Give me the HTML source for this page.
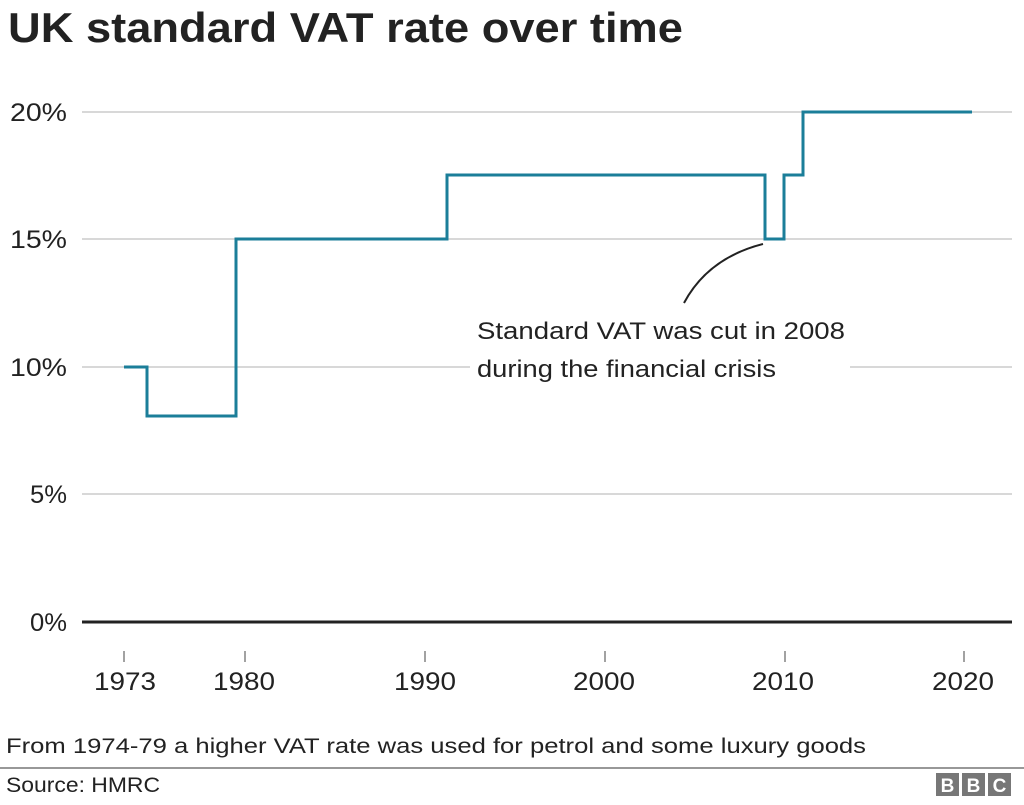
<!DOCTYPE html>
<html><head><meta charset="utf-8"><style>
body{margin:0;background:#fff;width:1024px;height:800px;overflow:hidden;font-family:"Liberation Sans",Arial,sans-serif;}
</style></head><body>
<svg width="1024" height="800" xmlns="http://www.w3.org/2000/svg" font-family="Liberation Sans, Arial, sans-serif">
<text x="8" y="42" font-size="42" font-weight="bold" fill="#222" textLength="675" lengthAdjust="spacingAndGlyphs">UK standard VAT rate over time</text>
<g stroke="#ccc" stroke-width="1.5">
<line x1="82" y1="112" x2="1012" y2="112"/>
<line x1="82" y1="239" x2="1012" y2="239"/>
<line x1="82" y1="367" x2="1012" y2="367"/>
<line x1="82" y1="494" x2="1012" y2="494"/>
</g>
<line x1="82" y1="622" x2="1012" y2="622" stroke="#222" stroke-width="3"/>
<g font-size="25" fill="#222">
<text x="10" y="121" textLength="57" lengthAdjust="spacingAndGlyphs">20%</text>
<text x="10" y="248" textLength="57" lengthAdjust="spacingAndGlyphs">15%</text>
<text x="10" y="376" textLength="57" lengthAdjust="spacingAndGlyphs">10%</text>
<text x="30" y="503" textLength="37" lengthAdjust="spacingAndGlyphs">5%</text>
<text x="30" y="631" textLength="37" lengthAdjust="spacingAndGlyphs">0%</text>
</g>
<g stroke="#444" stroke-width="1">
<line x1="124" y1="651" x2="124" y2="662"/>
<line x1="245" y1="651" x2="245" y2="662"/>
<line x1="425" y1="651" x2="425" y2="662"/>
<line x1="605" y1="651" x2="605" y2="662"/>
<line x1="785" y1="651" x2="785" y2="662"/>
<line x1="964" y1="651" x2="964" y2="662"/>
</g>
<g font-size="25" fill="#222">
<text x="94" y="690" textLength="62" lengthAdjust="spacingAndGlyphs">1973</text>
<text x="213" y="690" textLength="62" lengthAdjust="spacingAndGlyphs">1980</text>
<text x="394" y="690" textLength="62" lengthAdjust="spacingAndGlyphs">1990</text>
<text x="573" y="690" textLength="62" lengthAdjust="spacingAndGlyphs">2000</text>
<text x="752" y="690" textLength="62" lengthAdjust="spacingAndGlyphs">2010</text>
<text x="932" y="690" textLength="62" lengthAdjust="spacingAndGlyphs">2020</text>
</g>
<rect x="470" y="350" width="380" height="35" fill="#fff"/>
<polyline fill="none" stroke="#1b7e99" stroke-width="3" points="124,367 147,367 147,416 236,416 236,239 447,239 447,175 765,175 765,239 784,239 784,175 803,175 803,112 972,112"/>
<path d="M763,244 Q708,258 684,303" fill="none" stroke="#222" stroke-width="2"/>
<g font-size="24" fill="#222">
<text x="477" y="339" textLength="368" lengthAdjust="spacingAndGlyphs">Standard VAT was cut in 2008</text>
<text x="477" y="377" textLength="299" lengthAdjust="spacingAndGlyphs">during the financial crisis</text>
</g>
<text x="6" y="753" font-size="21" fill="#222" textLength="860" lengthAdjust="spacingAndGlyphs">From 1974-79 a higher VAT rate was used for petrol and some luxury goods</text>
<line x1="0" y1="768" x2="1024" y2="768" stroke="#777" stroke-width="1.5"/>
<text x="6" y="792" font-size="21" fill="#222" textLength="154" lengthAdjust="spacingAndGlyphs">Source: HMRC</text>
<g font-size="19" font-weight="bold" fill="#fff" text-anchor="middle">
<rect x="936" y="773" width="23" height="23" fill="#777"/><text x="947.5" y="792">B</text>
<rect x="962" y="773" width="23" height="23" fill="#777"/><text x="973.5" y="792">B</text>
<rect x="988" y="773" width="23" height="23" fill="#777"/><text x="999.5" y="792">C</text>
</g>
</svg>
</body></html>
